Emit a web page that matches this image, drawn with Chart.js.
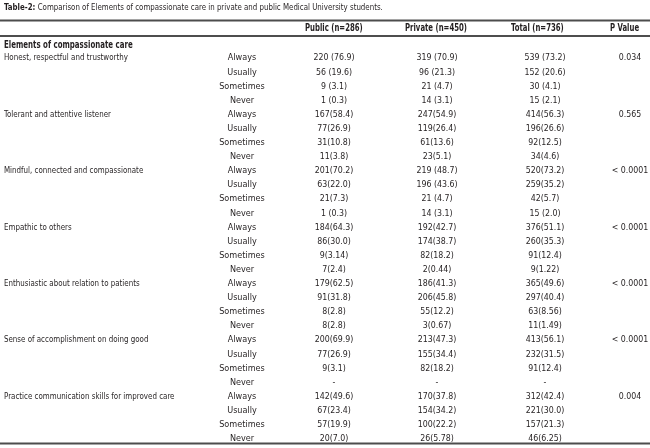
<!DOCTYPE html>
<html>
<head>
<meta charset="utf-8">
<script src="https://cdn.jsdelivr.net/npm/chart.js"></script>
<style>
  html, body { margin: 0; padding: 0; background: #fff; }
  #wrap { width: 650px; height: 448px; position: relative; }
</style>
</head>
<body>
<div id="wrap"><canvas id="tableChart"></canvas></div>
<script>
const titleLabel = 'Table-2:';
const titleText = ' Comparison of Elements of compassionate care in private and public Medical University students.';
const sectionLabel = 'Elements of compassionate care';
const columnHeaders = ['Public (n=286)', 'Private (n=450)', 'Total (n=736)', 'P Value'];

const items = [
  'Honest, respectful and trustworthy',
  'Tolerant and attentive listener',
  'Mindful, connected and compassionate',
  'Empathic to others',
  'Enthusiastic about relation to patients',
  'Sense of accomplishment on doing good',
  'Practice communication skills for improved care',
];
const responses = ['Always', 'Usually', 'Sometimes', 'Never'];

const publicVals = [
  ['220 (76.9)', '56 (19.6)', '9 (3.1)', '1 (0.3)'],
  ['167(58.4)', '77(26.9)', '31(10.8)', '11(3.8)'],
  ['201(70.2)', '63(22.0)', '21(7.3)', '1 (0.3)'],
  ['184(64.3)', '86(30.0)', '9(3.14)', '7(2.4)'],
  ['179(62.5)', '91(31.8)', '8(2.8)', '8(2.8)'],
  ['200(69.9)', '77(26.9)', '9(3.1)', '-'],
  ['142(49.6)', '67(23.4)', '57(19.9)', '20(7.0)'],
];
const privateVals = [
  ['319 (70.9)', '96 (21.3)', '21 (4.7)', '14 (3.1)'],
  ['247(54.9)', '119(26.4)', '61(13.6)', '23(5.1)'],
  ['219 (48.7)', '196 (43.6)', '21 (4.7)', '14 (3.1)'],
  ['192(42.7)', '174(38.7)', '82(18.2)', '2(0.44)'],
  ['186(41.3)', '206(45.8)', '55(12.2)', '3(0.67)'],
  ['213(47.3)', '155(34.4)', '82(18.2)', '-'],
  ['170(37.8)', '154(34.2)', '100(22.2)', '26(5.78)'],
];
const totalVals = [
  ['539 (73.2)', '152 (20.6)', '30 (4.1)', '15 (2.1)'],
  ['414(56.3)', '196(26.6)', '92(12.5)', '34(4.6)'],
  ['520(73.2)', '259(35.2)', '42(5.7)', '15 (2.0)'],
  ['376(51.1)', '260(35.3)', '91(12.4)', '9(1.22)'],
  ['365(49.6)', '297(40.4)', '63(8.56)', '11(1.49)'],
  ['413(56.1)', '232(31.5)', '91(12.4)', '-'],
  ['312(42.4)', '221(30.0)', '157(21.3)', '46(6.25)'],
];
const pValues = ['0.034', '0.565', '< 0.0001', '< 0.0001', '< 0.0001', '< 0.0001', '0.004'];

// layout: x in pixels, y in row units (row 0 = first data row)
const FONT = '"Liberation Sans Narrow", "DejaVu Sans Condensed", sans-serif';
const ROW_H = 14.1;
const FIRST_ROW_Y = 58;
const toRow = (px) => (px - FIRST_ROW_Y) / ROW_H;

const colX = { item: 4, response: 242, pub: 334, priv: 437, total: 545, p: 630 };
const headerX = [305, 405, 511, 610];
const titleRow = toRow(8);
const headerRow = toRow(28);
const sectionRow = toRow(45);
const ruleRows = [toRow(20.5), toRow(36), toRow(443.5)];

// text styles: size in px, squeeze = horizontal scale to mimic a condensed face
const styles = {
  title: { size: 9, bold: false, squeeze: 0.87 },
  header: { size: 10, bold: true, squeeze: 0.77 },
  section: { size: 10.5, bold: true, squeeze: 0.745 },
  label: { size: 9.5, bold: false, squeeze: 0.83 },
  response: { size: 9.5, bold: false, squeeze: 0.95 },
  value: { size: 9.5, bold: false, squeeze: 0.92 },
};

// build the cells
const cells = [];
cells.push({ x: colX.item, y: titleRow, text: titleText, prefix: titleLabel, align: 'left', style: 'title' });
columnHeaders.forEach((h, i) => {
  cells.push({ x: headerX[i], y: headerRow, text: h, align: 'left', style: 'header' });
});
cells.push({ x: colX.item, y: sectionRow, text: sectionLabel, align: 'left', style: 'section' });

items.forEach((item, g) => {
  const base = g * responses.length;
  cells.push({ x: colX.item, y: base, text: item, align: 'left', style: 'label' });
  cells.push({ x: colX.p, y: base, text: pValues[g], align: 'center', style: 'value' });
  responses.forEach((r, k) => {
    const row = base + k;
    cells.push({ x: colX.response, y: row, text: r, align: 'center', style: 'response' });
    cells.push({ x: colX.pub, y: row, text: publicVals[g][k], align: 'center', style: 'value' });
    cells.push({ x: colX.priv, y: row, text: privateVals[g][k], align: 'center', style: 'value' });
    cells.push({ x: colX.total, y: row, text: totalVals[g][k], align: 'center', style: 'value' });
  });
});

function fontFor(st, bold) {
  return (bold ? 'bold ' : '') + st.size + 'px ' + FONT;
}

const tableTextPlugin = {
  id: 'tableText',
  afterDatasetsDraw(chart) {
    const ctx = chart.ctx;
    const { left, right } = chart.chartArea;
    const yScale = chart.scales.y;
    ctx.save();

    // horizontal rules
    ctx.strokeStyle = '#4d4d4d';
    ctx.lineWidth = 1.8;
    ruleRows.forEach((r) => {
      const y = yScale.getPixelForValue(r);
      ctx.beginPath();
      ctx.moveTo(left, y);
      ctx.lineTo(right, y);
      ctx.stroke();
    });

    // cell texts
    ctx.fillStyle = '#231f20';
    ctx.textBaseline = 'middle';
    const meta = chart.getDatasetMeta(0);
    const data = chart.data.datasets[0].data;
    meta.data.forEach((pt, i) => {
      const cell = data[i];
      const st = styles[cell.style];
      ctx.save();
      ctx.translate(pt.x, pt.y);
      ctx.scale(st.squeeze, 1);
      let x = 0;
      if (cell.prefix) {
        ctx.font = fontFor(st, true);
        ctx.textAlign = 'left';
        ctx.fillText(cell.prefix, 0, 0);
        x = ctx.measureText(cell.prefix).width;
      }
      ctx.font = fontFor(st, st.bold);
      ctx.textAlign = cell.align;
      ctx.fillText(cell.text, x, 0);
      ctx.restore();
    });
    ctx.restore();
  },
};

new Chart(document.getElementById('tableChart'), {
  type: 'scatter',
  data: {
    datasets: [
      {
        label: 'cells',
        data: cells,
        pointRadius: 0,
        pointHoverRadius: 0,
      },
    ],
  },
  options: {
    responsive: true,
    maintainAspectRatio: false,
    animation: false,
    events: [],
    layout: { padding: 0 },
    plugins: {
      legend: { display: false },
      tooltip: { enabled: false },
    },
    scales: {
      x: { type: 'linear', display: false, min: 0, max: 650 },
      y: { type: 'linear', display: false, reverse: true, min: toRow(0), max: toRow(448) },
    },
  },
  plugins: [tableTextPlugin],
});
</script>
</body>
</html>
